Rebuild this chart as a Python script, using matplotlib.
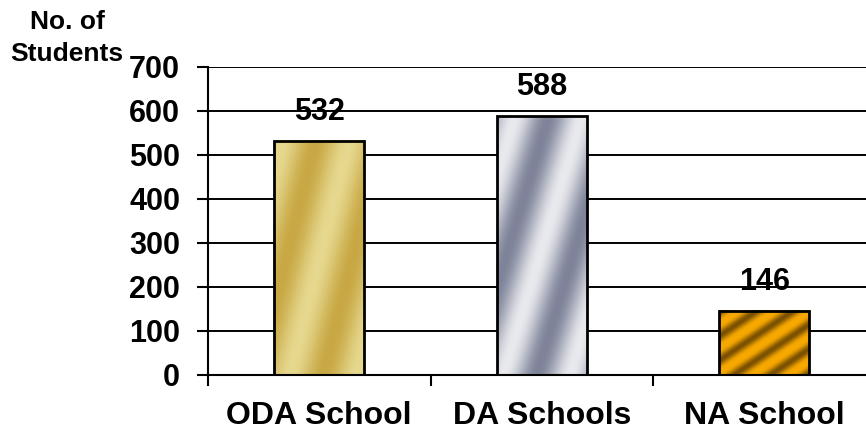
import numpy as np
import matplotlib.pyplot as plt
from matplotlib.colors import to_rgb

plt.rcParams['font.family'] = ['Liberation Sans', 'DejaVu Sans']
plt.rcParams['font.weight'] = 'bold'

schools = ['ODA School', 'DA Schools', 'NA School']
students = [532, 588, 146]
yticks = [0, 100, 200, 300, 400, 500, 600, 700]

# metallic look: light / dark colour per bar, stripe slope and period (px)
bar_light = ['#e6d88e', '#e9eaee', '#f8a900']
bar_dark = ['#c8a844', '#7e8399', '#7a5000']
stripe_slope = [0.25, 0.3, 1.5]
stripe_period = [66, 66, 36]
stripe_sharp = [1.0, 1.0, 1.6]

fig = plt.figure(figsize=(8.66, 4.38), dpi=100)
ax = fig.add_axes([208/866, 63/438, 667.5/866, 308/438])
ax.set_xlim(-0.5, 2.5)
ax.set_ylim(0, 700)

bars = ax.bar(range(len(schools)), students, width=0.405, facecolor='none',
              edgecolor='black', linewidth=2, zorder=3)

fig.canvas.draw()
for i, b in enumerate(bars):
    xa, xb = b.get_x(), b.get_x() + b.get_width()
    (x0, y0), (x1, y1) = ax.transData.transform([(xa, 0), (xb, b.get_height())])
    nx, ny = int(round(x1 - x0)), int(round(y1 - y0))
    xx, yy = np.meshgrid(np.arange(nx) - nx/2, np.arange(ny) - ny/2)
    u = xx - stripe_slope[i]*yy
    w = (0.5 - 0.5*np.cos(2*np.pi*u/stripe_period[i]))**stripe_sharp[i]
    w = w[..., None]
    img = np.array(to_rgb(bar_light[i]))*(1 - w) + np.array(to_rgb(bar_dark[i]))*w
    ax.imshow(img, extent=(xa, xb, 0, b.get_height()), origin='lower',
              aspect='auto', zorder=2, interpolation='bilinear')

ax.set_xlim(-0.5, 2.5)
ax.set_ylim(0, 700)

for i, v in enumerate(students):
    ax.annotate(str(v), (i, v), xytext=(0, 15), textcoords='offset points',
                ha='center', va='baseline', fontsize=22, zorder=4)

ax.set_axisbelow(True)
ax.yaxis.grid(True, color='black', linewidth=1.4)
for s in ['top', 'right']:
    ax.spines[s].set_visible(False)
for s in ['left', 'bottom']:
    ax.spines[s].set_linewidth(1.5)

ax.set_yticks(yticks)
ax.tick_params(axis='y', labelsize=22, length=8, width=1.5, pad=12)
ax.set_xticks(range(len(schools)))
ax.set_xticklabels(schools)
ax.tick_params(axis='x', which='major', labelsize=23, length=0, pad=19)
ax.set_xticks([-0.5, 0.5, 1.5, 2.5], minor=True)
ax.tick_params(axis='x', which='minor', length=8, width=1.5)

fig.text(67/866, 1 - 10/438, 'No. of\nStudents', ha='center', va='top',
         fontsize=19, linespacing=1.4)

fig.savefig('out.png', dpi=100)
